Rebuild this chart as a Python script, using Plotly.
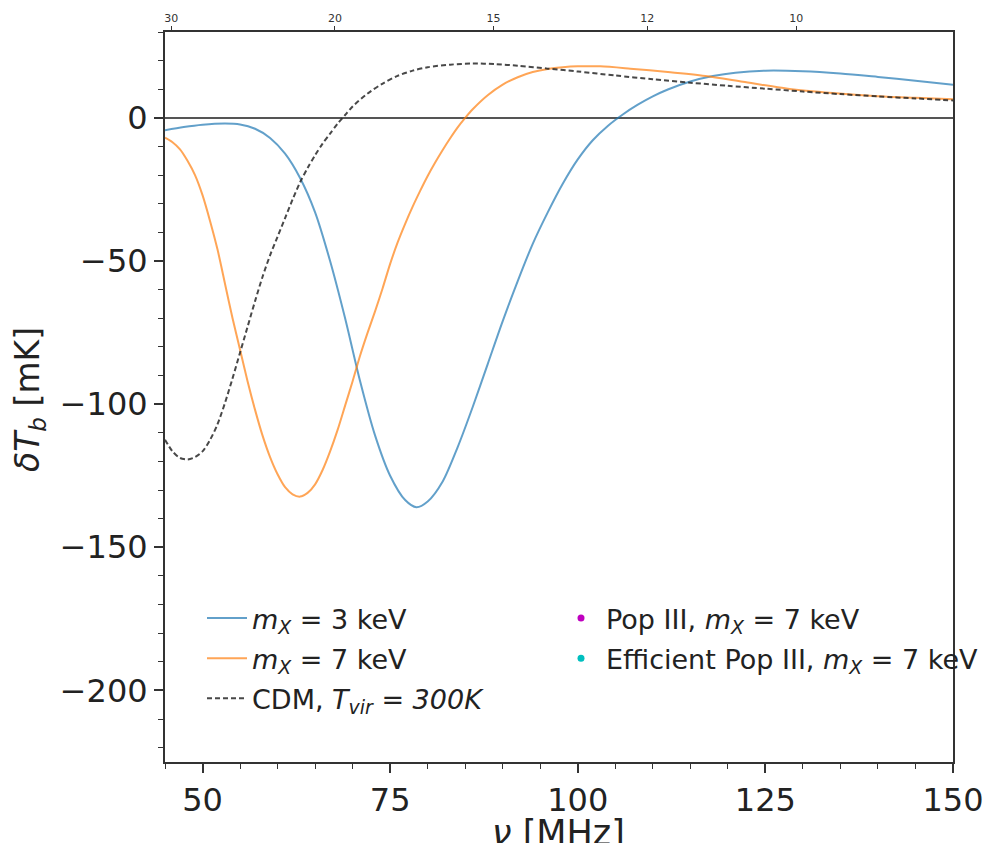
import plotly.graph_objects as go

# ---- data ----
nu_3keV = [45, 47.5, 50, 53, 55, 57, 59, 61, 63, 65, 67, 69, 71, 73, 75, 77, 78.5, 80, 82, 84, 86, 88, 90, 92, 94, 96, 98, 100, 102, 104, 106, 108, 110, 112, 115, 118, 121, 125, 130, 135, 140, 145, 150]
dT_3keV = [-4.3, -3.2, -2.4, -2.0, -2.3, -3.8, -7.0, -12.5, -21.0, -33.0, -50.0, -70.0, -92.0, -111.0, -125.0, -133.5, -136.0, -134.0, -127.0, -115.0, -101.0, -86.0, -71.0, -57.0, -44.0, -33.0, -23.0, -14.5, -7.8, -2.8, 1.2, 4.6, 7.5, 9.9, 12.7, 14.6, 15.8, 16.5, 16.3, 15.5, 14.3, 13.0, 11.6]

nu_7keV = [45, 46, 47, 48, 49, 50, 51, 52, 53, 54, 55, 56, 57, 58, 59, 60, 61, 62, 63, 64, 65, 66, 67, 68, 69, 70, 71, 72, 73, 74, 75, 76, 77, 78, 79, 80, 81, 82, 83, 84, 85, 86, 88, 90, 92, 94, 96, 98, 100, 103, 107, 112, 117, 122, 128, 134, 140, 145, 150]
dT_7keV = [-6.9, -8.5, -11.0, -15.0, -20.0, -27.0, -36.0, -46.0, -58.0, -70.0, -81.0, -92.0, -102.0, -111.0, -118.5, -124.5, -129.0, -131.5, -132.3, -131.0, -128.0, -123.0, -116.5, -109.0, -100.5, -92.0, -83.0, -75.0, -67.5, -59.5, -51.0, -43.5, -37.0, -31.0, -25.5, -20.3, -15.6, -11.2, -7.1, -3.3, 0.0, 3.0, 7.9, 11.6, 14.2, 16.0, 17.1, 17.7, 18.0, 18.0, 17.2, 16.0, 14.6, 12.6, 10.2, 8.7, 7.6, 7.0, 6.5]

nu_cdm = [45, 46, 47, 48, 49, 50, 51, 52, 53, 54, 55, 56, 57, 58, 59, 60, 61, 62, 63, 64, 65, 66, 67, 68, 69, 70, 72, 74, 76, 78, 80, 83, 86, 89, 92, 96, 100, 105, 110, 115, 120, 125, 130, 135, 140, 145, 150]
dT_cdm = [-112.4, -116.5, -118.8, -119.3, -118.5, -116.5, -112.5, -107.0, -99.5, -91.0, -82.0, -73.0, -64.0, -55.5, -48.0, -41.5, -35.0, -28.5, -22.5, -17.5, -13.0, -9.0, -5.5, -2.0, 1.0, 4.0, 8.5, 12.0, 14.7, 16.5, 17.7, 18.6, 19.0, 18.8, 18.2, 17.2, 16.2, 14.8, 13.5, 12.3, 11.2, 10.2, 9.2, 8.3, 7.5, 6.8, 6.1]

x_ticks = [50, 75, 100, 125, 150]
y_ticks = [0, -50, -100, -150, -200]
y_ticktext = ["0", "−50", "−100", "−150", "−200"]
z_ticks = [30, 20, 15, 12, 10]
nu_of_z = [1420.4 / (1 + z) for z in z_ticks]

FONT = "DejaVu Sans"

fig = go.Figure()

fig.add_trace(go.Scatter(
    x=nu_3keV, y=dT_3keV, mode="lines", line=dict(color="rgba(31,119,180,0.7)", width=2, shape="spline", smoothing=0.8),
    name="<i>m<sub>X</sub></i> = 3 keV", legend="legend", legendgroup="a"))
fig.add_trace(go.Scatter(
    x=nu_7keV, y=dT_7keV, mode="lines", line=dict(color="rgba(255,127,14,0.7)", width=2, shape="spline", smoothing=0.8),
    name="<i>m<sub>X</sub></i> = 7 keV", legend="legend", legendgroup="b"))
fig.add_trace(go.Scatter(
    x=nu_cdm, y=dT_cdm, mode="lines", line=dict(color="rgba(40,40,40,0.85)", width=2, dash="5px,3px", shape="spline", smoothing=0.8),
    name="CDM, <i>T<sub>vir</sub></i> = <i>300K</i>", legend="legend", legendgroup="c"))
fig.add_trace(go.Scatter(
    x=[None], y=[None], mode="markers", marker=dict(color="#bf00bf", size=7),
    name="Pop III, <i>m<sub>X</sub></i> = 7 keV", legend="legend2", legendgroup="d"))
fig.add_trace(go.Scatter(
    x=[None], y=[None], mode="markers", marker=dict(color="#00bfbf", size=7),
    name="Efficient Pop III, <i>m<sub>X</sub></i> = 7 keV", legend="legend2", legendgroup="e"))
# invisible carrier so the top (redshift) axis is drawn
fig.add_trace(go.Scatter(x=[None], y=[None], xaxis="x2", yaxis="y", showlegend=False, hoverinfo="skip"))

W, H = 988, 843
L, R, T, B = 165, 35, 32, 81
pw = W - L - R
ph = H - T - B

def px_x(p):
    return (p - L) / pw

def px_y(p):
    return (H - B - p) / ph

legend_common = dict(
    font=dict(family=FONT, size=27, color="#222"),
    bgcolor="rgba(0,0,0,0)", borderwidth=0,
    yanchor="top", xanchor="left", traceorder="grouped", tracegroupgap=2,
    itemwidth=40,
)

fig.update_layout(
    width=W, height=H,
    margin=dict(l=L, r=R, t=T, b=B, autoexpand=False),
    paper_bgcolor="white", plot_bgcolor="white",
    font=dict(family=FONT, color="#222"),
    showlegend=True,
    legend=dict(x=px_x(202), y=px_y(594), **legend_common),
    legend2=dict(x=px_x(556), y=px_y(594), **legend_common),
    xaxis=dict(
        range=[45, 150], tickvals=x_ticks, ticks="outside", ticklen=9, tickwidth=1.5, tickcolor="#333",
        minor=dict(dtick=5, tick0=0, ticks="outside", ticklen=5, tickwidth=1.2, tickcolor="#333"),
        showline=True, linecolor="#333", linewidth=2, showgrid=False, zeroline=False, automargin=False,
        tickfont=dict(family=FONT, size=32, color="#222"),
    ),
    xaxis2=dict(
        overlaying="x", side="top", range=[45, 150], tickvals=nu_of_z, ticktext=[str(z) for z in z_ticks],
        ticks="outside", ticklen=4, tickwidth=1.2, tickcolor="#333", automargin=False,
        showline=True, linecolor="#333", linewidth=2, showgrid=False, zeroline=False,
        tickfont=dict(family=FONT, size=11, color="#333"),
    ),
    yaxis=dict(
        range=[-225, 30], tickvals=y_ticks, ticktext=y_ticktext,
        ticks="outside", ticklen=9, tickwidth=1.5, tickcolor="#333",
        minor=dict(dtick=10, tick0=0, ticks="outside", ticklen=5, tickwidth=1.2, tickcolor="#333"),
        showline=True, mirror=True, linecolor="#333", linewidth=2, showgrid=False, automargin=False,
        zeroline=True, zerolinecolor="#555", zerolinewidth=2,
        tickfont=dict(family=FONT, size=32, color="#222"),
    ),
    annotations=[
        dict(text="<i>ν</i> [MHz]", xref="paper", yref="paper", x=px_x(558), y=px_y(833),
             xanchor="center", yanchor="middle", showarrow=False,
             font=dict(family=FONT, size=35, color="#222")),
        dict(text="<i>δT<sub>b</sub></i> [mK]", xref="paper", yref="paper", x=px_x(30), y=px_y(400),
             xanchor="center", yanchor="middle", showarrow=False, textangle=-90,
             font=dict(family=FONT, size=33, color="#222")),
    ],
)

fig.write_html("out.html")
